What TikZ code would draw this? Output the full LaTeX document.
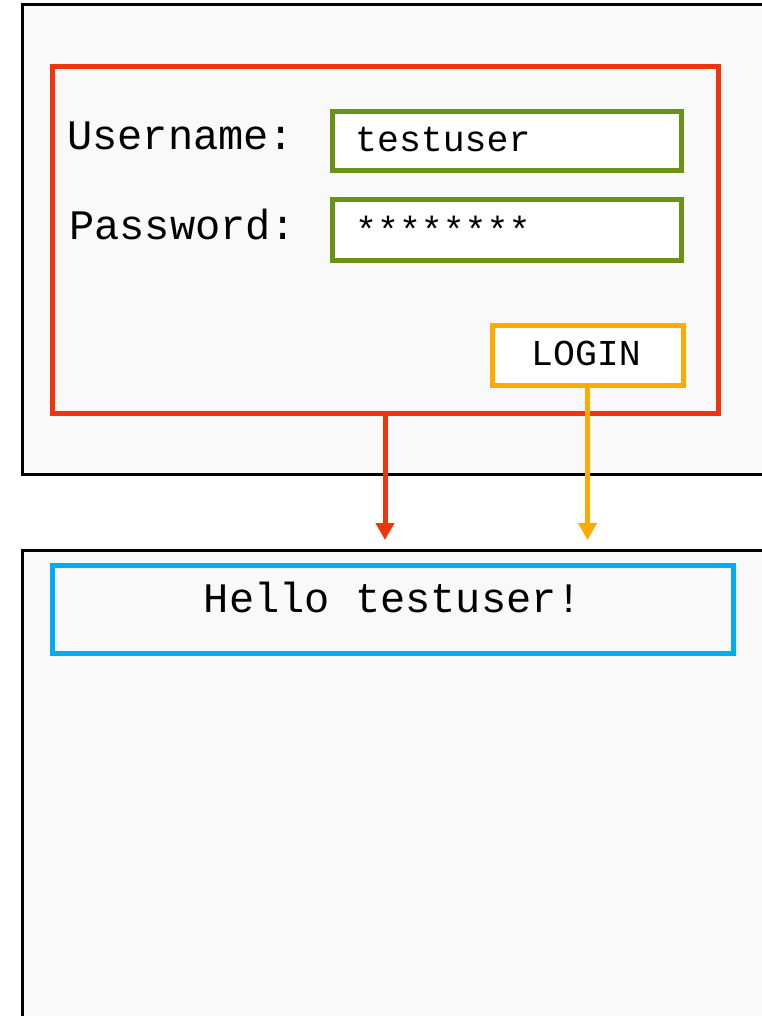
\documentclass[tikz,border=0pt]{standalone}
\usepackage{fontspec}
\setmonofont{Liberation Mono}
\usetikzlibrary{arrows.meta}
\definecolor{formred}{RGB}{240,53,14}
\definecolor{fieldgreen}{RGB}{106,146,22}
\definecolor{btnorange}{RGB}{255,170,0}
\definecolor{msgblue}{RGB}{0,174,239}
\definecolor{pagebg}{RGB}{249,249,249}
\tikzset{
  frame/.style={draw=black, line width=3pt, fill=pagebg},
  formbox/.style={draw=formred, line width=5pt, inner sep=0pt, outer sep=0pt},
  fieldbox/.style={draw=fieldgreen, line width=5pt, fill=white, inner sep=0pt, outer sep=0pt, minimum width=349pt},
  btnbox/.style={draw=btnorange, line width=5pt, fill=white, inner sep=0pt, outer sep=0pt, minimum width=191pt, minimum height=60pt},
  msgbox/.style={draw=msgblue, line width=5pt, inner sep=0pt, outer sep=0pt},
  bigtxt/.style={inner sep=0pt, font=\ttfamily\fontsize{42}{50}\selectfont},
  smalltxt/.style={inner sep=0pt, font=\ttfamily\fontsize{36.5}{44}\selectfont},
  flow/.style={line width=5pt, -{Triangle[width=18pt,length=17pt]}},
  shade/.style={draw=black, line width=1pt},
}
\begin{document}
\begin{tikzpicture}[x=1pt,y=-1pt]
\useasboundingbox (0,0) rectangle (762,1016);
\clip (0,0) rectangle (762,1016);
% screens
\draw[frame] (22,5) rectangle (800,474);
\draw[frame] (22,550) rectangle (800,1100);
% login form
\node[formbox, minimum width=666pt, minimum height=346pt] (form) at (385,240) {};
\node[bigtxt, anchor=base west] (ulabel) at (67,150) {Username:};
\node[bigtxt, anchor=base west] (plabel) at (69,240) {Password:};
\draw[shade] (330,112) rectangle (679,171);
\node[fieldbox, minimum height=59pt] (ufield) at (506.5,141.5) {};
\draw[shade] (330,200) rectangle (679,260);
\node[fieldbox, minimum height=60pt] (pfield) at (506.5,230) {};
\node[smalltxt, anchor=base west] (utext) at (355,152) {testuser};
\node[smalltxt, anchor=base west] (ptext) at (355,243) {********};
\draw[shade] (490,325) rectangle (681,385);
\node[btnbox] (login) at (587.5,355) {};
\node[smalltxt, anchor=base] (logintext) at (586,365) {LOGIN};
% result
\node[msgbox, minimum width=681pt, minimum height=88pt] (hello) at (392.5,609) {};
\node[bigtxt, anchor=base] (hellotext) at (393,612) {Hello testuser!};
% connectors
\coordinate (redend) at (385,540);
\coordinate (orangeend) at (587.5,540);
\draw[flow, formred] (form.south) -- (redend);
\draw[flow, btnorange] (login.south) -- (orangeend);
\end{tikzpicture}
\end{document}
